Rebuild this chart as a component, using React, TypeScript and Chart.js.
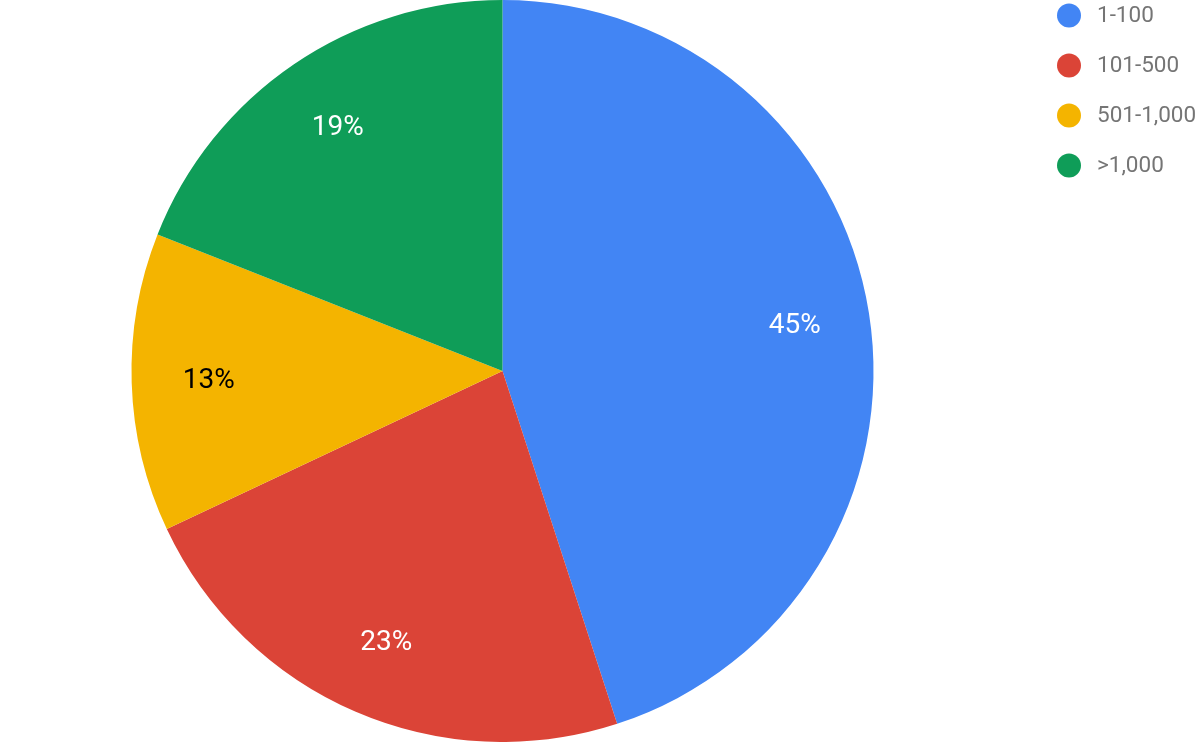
import React, { useEffect, useRef } from "react";
import { Chart, registerables } from "chart.js";

Chart.register(...registerables);

const categories = ["1-100", "101-500", "501-1,000", ">1,000"];
const shares = [45, 23, 13, 19];
const sliceColors = ["#4285F4", "#DB4437", "#F4B400", "#0F9D58"];
const labelColors = ["#ffffff", "#ffffff", "#000000", "#ffffff"];

const sliceLabelPlugin = {
  id: "sliceLabels",
  afterDatasetsDraw(chart: any) {
    const ctx = chart.ctx;
    const meta = chart.getDatasetMeta(0);
    const data = chart.data.datasets[0].data as number[];
    const total = data.reduce((a: number, b: number) => a + b, 0);
    ctx.save();
    ctx.font = "28px Roboto";
    ctx.textAlign = "center";
    ctx.textBaseline = "middle";
    meta.data.forEach((arc: any, i: number) => {
      const p = arc.getProps(["x", "y", "startAngle", "endAngle", "outerRadius"], true);
      const mid = (p.startAngle + p.endAngle) / 2;
      const r = p.outerRadius * 0.795;
      const x = p.x + Math.cos(mid) * r;
      const y = p.y + Math.sin(mid) * r;
      ctx.fillStyle = labelColors[i];
      ctx.fillText(Math.round((data[i] / total) * 100) + "%", x + 1, y + 1);
    });
    ctx.restore();
  },
};

const legendPlugin = {
  id: "sideLegend",
  afterDraw(chart: any) {
    const ctx = chart.ctx;
    const labels = chart.data.labels as string[];
    const colors = chart.data.datasets[0].backgroundColor as string[];
    const left = chart.chartArea.right + 64;
    ctx.save();
    ctx.font = "22.5px Roboto";
    ctx.textAlign = "left";
    ctx.textBaseline = "middle";
    labels.forEach((lab, i) => {
      const cy = 15 + i * 50;
      ctx.beginPath();
      ctx.arc(left, cy + 0.5, 12, 0, Math.PI * 2);
      ctx.fillStyle = colors[i];
      ctx.fill();
      ctx.fillStyle = "#757575";
      ctx.fillText(lab, left + 28, cy + 1.5);
    });
    ctx.restore();
  },
};

export default function App() {
  const ref = useRef<HTMLCanvasElement | null>(null);
  useEffect(() => {
    if (!ref.current) return;
    const chart = new Chart(ref.current, {
      type: "pie",
      data: {
        labels: categories,
        datasets: [
          {
            data: shares,
            backgroundColor: sliceColors,
            borderWidth: 0,
          },
        ],
      },
      options: {
        responsive: false,
        animation: false,
        devicePixelRatio: 1,
        events: [],
        layout: { padding: { left: 0, right: 195, top: 0, bottom: 0 } },
        plugins: {
          legend: { display: false },
          tooltip: { enabled: false },
        },
      },
      plugins: [sliceLabelPlugin, legendPlugin],
    });
    return () => chart.destroy();
  }, []);
  return (
    <div style={{ position: "fixed", left: 0, top: 0, width: 1200, height: 742, background: "#fff" }}>
      <canvas ref={ref} width={1200} height={742} />
    </div>
  );
}
